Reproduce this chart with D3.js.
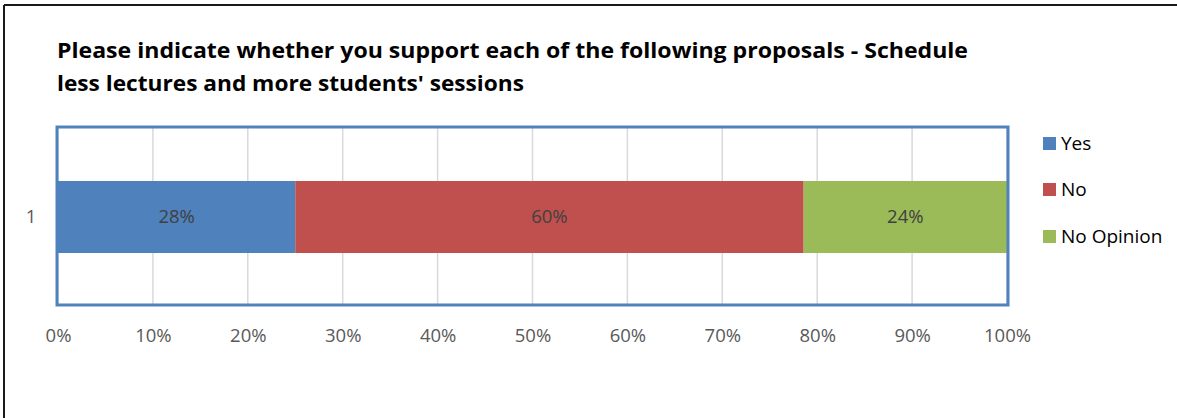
<!DOCTYPE html>
<html><head><meta charset="utf-8">
<script src="https://cdn.jsdelivr.net/npm/d3@7"></script>
<style>body{margin:0;background:#fff}svg{display:block}text{font-family:"Open Sans",sans-serif}</style>
</head><body><svg id="c" width="1177" height="418"></svg>
<script>
const categories = ["1"];
const seriesNames = ["Yes", "No", "No Opinion"];
const seriesColors = ["#4F81BD", "#C0504D", "#9BBB59"];
const yesValues = [28];
const noValues = [60];
const noOpinionValues = [24];
const tickValues = [0, 0.1, 0.2, 0.3, 0.4, 0.5, 0.6, 0.7, 0.8, 0.9, 1];
const titleLines = ["Please indicate whether you support each of the following proposals - Schedule", "less lectures and more students' sessions"];

const svg = d3.select("#c");
// outer frame
svg.append("line").attr("x1",4).attr("y1",5).attr("x2",1177).attr("y2",5).attr("stroke","#1a1a1a").attr("stroke-width",2);
svg.append("line").attr("x1",4).attr("y1",5).attr("x2",4).attr("y2",418).attr("stroke","#1a1a1a").attr("stroke-width",2);

// title
titleLines.forEach((t,i)=>{
  svg.append("text").attr("x",57).attr("y",58+i*33).attr("font-size",22).attr("font-weight","bold").attr("fill","#000")
    .attr("textLength", i===0?911:467).attr("lengthAdjust","spacingAndGlyphs").text(t);
});

const x = d3.scaleLinear().domain([0,1]).range([58,1007]);

// gridlines
svg.append("g").selectAll("line").data(tickValues).join("line")
  .attr("x1",d=>x(d)).attr("x2",d=>x(d)).attr("y1",127).attr("y2",305)
  .attr("stroke","#d9d9d9").attr("stroke-width",1.5);

// data
const rows = categories.map((c,i)=>({cat:c, "Yes":yesValues[i], "No":noValues[i], "No Opinion":noOpinionValues[i]}));
const stack = d3.stack().keys(seriesNames).offset(d3.stackOffsetExpand);
const layers = stack(rows);
const barTop = 181, barH = 72;
layers.forEach((layer,li)=>{
  const g = svg.append("g");
  layer.forEach((d,j)=>{
    g.append("rect").attr("x",x(d[0])).attr("width",x(d[1])-x(d[0]))
      .attr("y",barTop).attr("height",barH).attr("fill",seriesColors[li]);
    g.append("text").attr("x",(x(d[0])+x(d[1]))/2).attr("y",barTop+barH/2).attr("dy","0.35em")
      .attr("text-anchor","middle").attr("font-size",18.5).attr("fill","#404040")
      .text(d.data[seriesNames[li]]+"%");
  });
});

// plot border
svg.append("rect").attr("x",57).attr("y",127).attr("width",951).attr("height",178)
  .attr("fill","none").attr("stroke","#4F81BD").attr("stroke-width",3);

// x axis labels
const xAxis = d3.axisBottom(x).tickValues(tickValues).tickFormat(d3.format(".0%")).tickSize(0).tickPadding(0);
const ax = svg.append("g").attr("transform","translate(0,342)").call(xAxis);
ax.select(".domain").remove();
ax.selectAll("text").attr("font-size",18.5).attr("fill","#595959").attr("font-family","Open Sans").attr("dy",0);

// category label
categories.forEach(c=>{
  svg.append("text").attr("x",31).attr("y",barTop+barH/2).attr("dy","0.35em").attr("text-anchor","middle")
    .attr("font-size",18.5).attr("fill","#595959").text(c);
});

// legend
const ly = [143, 189, 236];
seriesNames.forEach((s,i)=>{
  svg.append("rect").attr("x",1043).attr("y",ly[i]-6).attr("width",13).attr("height",13).attr("fill",seriesColors[i]);
  svg.append("text").attr("x",1061).attr("y",ly[i]).attr("dy","0.35em").attr("font-size",19).attr("fill","#000").text(s);
});
</script></body></html>
